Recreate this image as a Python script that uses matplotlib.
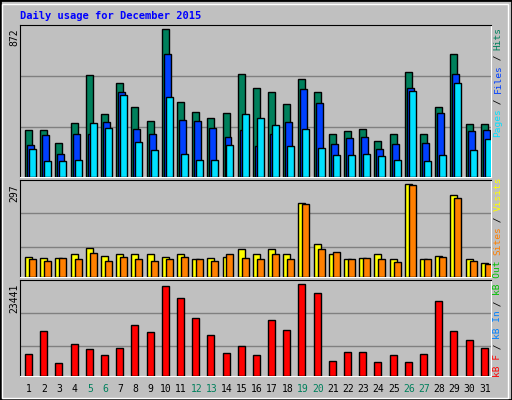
import matplotlib
matplotlib.use("Agg")
import matplotlib.pyplot as plt
from matplotlib.patches import Rectangle
import numpy as np

days = list(range(1, 32))
weekends = [5, 6, 12, 13, 19, 20, 26, 27]
hits = [280, 280, 203, 316, 600, 369, 552, 416, 333, 872, 440, 381, 351, 375, 606, 523,
        499, 428, 576, 499, 256, 274, 286, 215, 251, 618, 256, 416, 724, 310, 310]
files = [191, 245, 138, 251, 256, 322, 499, 286, 251, 724, 339, 333, 292, 239, 280, 185,
         251, 322, 517, 434, 197, 233, 239, 168, 197, 523, 203, 375, 606, 274, 280]
pages = [168, 97, 97, 103, 316, 292, 481, 209, 162, 470, 138, 103, 103, 191, 369, 351,
         304, 185, 286, 174, 132, 132, 138, 126, 103, 505, 97, 132, 552, 162, 227]
visits = [65, 62, 62, 72, 94, 68, 72, 75, 72, 65, 72, 56, 62, 65, 88, 75,
          88, 72, 235, 104, 72, 59, 62, 75, 59, 297, 56, 68, 261, 59, 46]
sites = [59, 52, 62, 59, 78, 52, 65, 59, 52, 59, 65, 56, 52, 72, 62, 56,
         72, 59, 232, 88, 81, 59, 62, 59, 49, 293, 56, 65, 254, 52, 43]
kbytes = [5732, 11635, 3422, 8298, 7015, 5475, 7272, 13175, 11378, 22927, 19848, 14971,
          10608, 5988, 7785, 5475, 14458, 11891, 23441, 21131, 3935, 6245, 6245, 3679,
          5475, 3679, 5732, 19078, 11635, 9325, 7272]

W, H = 512, 400
fig = plt.figure(figsize=(W / 100, H / 100), dpi=100, facecolor="#c0c0c0")
fig.patches.append(Rectangle((0, 0), 1, 1, transform=fig.transFigure, fill=False, ec="black", lw=2))
fig.patches.append(Rectangle((2 / W, 2 / H), 1 - 6 / W, 1 - 6 / H, transform=fig.transFigure,
                             fill=False, ec="white", lw=1))
MONO = "DejaVu Sans Mono"

def ax_at(x0, y0, x1, y1):
    ax = fig.add_axes([x0 / W, 1 - y1 / H, (x1 - x0) / W, (y1 - y0) / H])
    ax.set_facecolor("#c0c0c0")
    ax.set_xlim(0.5, 31.5)
    ax.set_xticks([])
    ax.set_yticks([])
    for s in ["left", "top"]:
        ax.spines[s].set_color("black")
    for s in ["right", "bottom"]:
        ax.spines[s].set_color("white")
    return ax

x = np.array(days)
w = 0.46
ek = dict(edgecolor="black", linewidth=1, align="edge", zorder=3)

ax1 = ax_at(20, 25, 491, 177)
ax1.set_ylim(0, 897)
for g in [294, 596]:
    ax1.axhline(g, color="#808080", lw=1, zorder=1)
ax1.bar(x - 0.17, hits, w, color="#00805c", **ek)
ax1.bar(x - 0.04, files, w, color="#0040ff", **ek)
ax1.bar(x + 0.09, pages, w, color="#00e0ff", **ek)

ax2 = ax_at(20, 180, 491, 277)
ax2.set_ylim(0, 310)
for g in [97, 203]:
    ax2.axhline(g, color="#808080", lw=1, zorder=1)
ax2.bar(x - 0.17, visits, w, color="#ffff00", **ek)
ax2.bar(x + 0.09 - 0.13 + 0.13, sites, w, color="#ff8000", **ek)

ax3 = ax_at(20, 280, 491, 376)
ax3.set_ylim(0, 24570)
for g in [7614, 16000]:
    ax3.axhline(g, color="#808080", lw=1, zorder=1)
ax3.bar(x - 0.17, kbytes, w, color="#ff0000", **ek)

for d in days:
    ax3.text(d + 0.1, -0.08, str(d), transform=ax3.get_xaxis_transform(), ha="center", va="top",
             fontsize=7, family=MONO, color="#00805c" if d in weekends else "black")

fig.text(20 / W, 1 - 16 / H, "Daily usage for December 2015", family=MONO, fontsize=7.5,
         fontweight="bold", color="#0000ff", va="center")
for ypix, lab in [(28, "872"), (184, "297"), (284, "23441")]:
    fig.text(14 / W, 1 - ypix / H, lab, rotation=90, ha="center", va="top",
             fontsize=7, family=MONO)

def vlabel(ybot, segs):
    y = ybot
    adv = 5.45
    for t, c in segs:
        fig.text(498 / W, 1 - y / H, t, rotation=90, ha="center", va="bottom", color=c,
                 fontsize=6.8, family=MONO)
        y -= adv * len(t)

vlabel(137, [("Pages", "#00e0ff"), (" / ", "black"), ("Files", "#0040ff"), (" / ", "black"),
             ("Hits", "#00805c")])
vlabel(255, [("Sites", "#ff8000"), (" / ", "black"), ("Visits", "#ffff00")])
vlabel(377, [("kB F", "#ff0000"), (" / ", "black"), ("kB In", "#0080ff"), (" / ", "black"),
             ("kB Out", "#00c000")])

fig.savefig("out.png", dpi=100, facecolor=fig.get_facecolor())
